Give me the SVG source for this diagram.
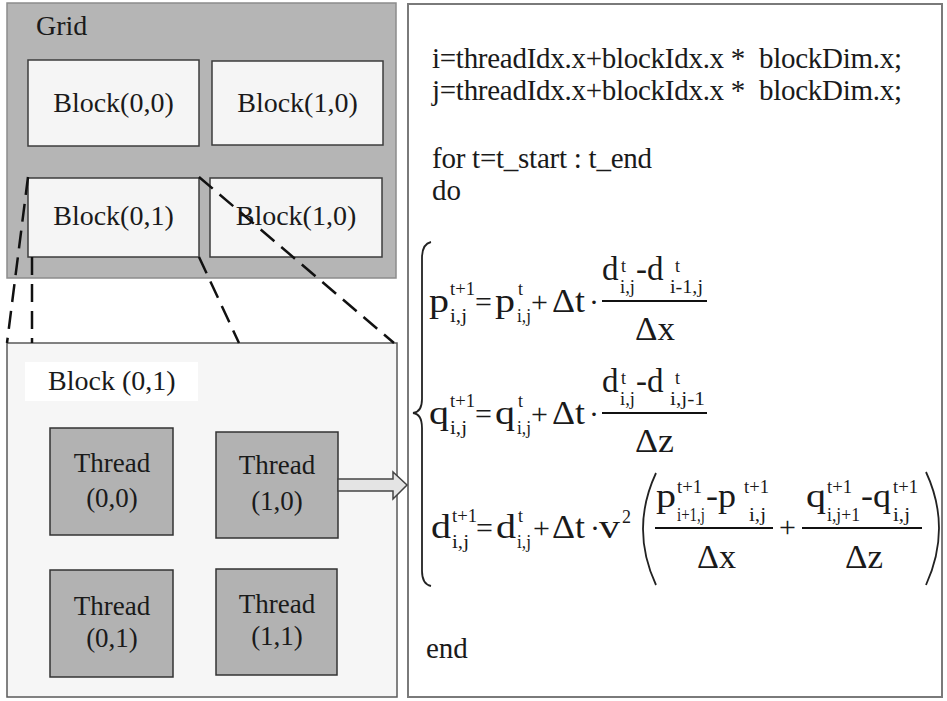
<svg xmlns="http://www.w3.org/2000/svg" width="947" height="701" viewBox="0 0 947 701" font-family="'Liberation Serif', Tinos, 'Times New Roman', 'DejaVu Serif', serif">
  <style>
    text { font-family: "Liberation Serif", Tinos, "Times New Roman", "DejaVu Serif", serif; fill: #1a1a1a; }
    .lbl { font-size: 28px; }
    .lblc { font-size: 28px; text-anchor: middle; }
    .thr { font-size: 27px; text-anchor: middle; }
    .code { font-size: 29px; white-space: pre; }
    .m { font-size: 30px; }
    .L { font-size: 33px; }
    .s { font-size: 18px; }
    .grid { fill: #b5b5b5; stroke: #8c8c8c; stroke-width: 1.5; }
    .blk { fill: #f5f5f5; stroke: #3c3c3c; stroke-width: 1.5; }
    .thbox { fill: #b2b2b2; stroke: #333; stroke-width: 1.5; }
    .dash { fill: none; stroke: #111; stroke-width: 2.5; stroke-dasharray: 18 9; }
    .bar { stroke: #111; stroke-width: 2; }
    .curve { fill: none; stroke: #222; stroke-width: 1.8; }
  </style>

  <rect x="0" y="0" width="947" height="701" fill="#ffffff"/>

  <!-- grid with its four blocks -->
  <g id="grid">
    <rect class="grid" x="7" y="3" width="389" height="275"/>
    <text class="lbl" x="36" y="35">Grid</text>
  </g>
  <g id="block-0-0">
    <rect class="blk" x="28" y="60" width="171" height="86"/>
    <text class="lblc" x="113.5" y="112">Block(0,0)</text>
  </g>
  <g id="block-1-0">
    <rect class="blk" x="212" y="61" width="171" height="84"/>
    <text class="lblc" x="297.5" y="112">Block(1,0)</text>
  </g>
  <g id="block-0-1">
    <rect class="blk" x="28" y="178" width="171" height="79"/>
    <text class="lblc" x="113.5" y="225">Block(0,1)</text>
  </g>
  <g id="block-1-0-b">
    <rect class="blk" x="210" y="178" width="172" height="79"/>
    <text class="lblc" x="296" y="225">Block(1,0)</text>
  </g>

  <!-- expanded block with its threads -->
  <g id="block-detail">
    <rect x="7" y="343" width="390" height="354" fill="#f6f6f6" stroke="#5a5a5a" stroke-width="1.5"/>
    <rect x="25" y="362" width="173" height="39" fill="#ffffff"/>
    <text class="lbl" x="48" y="390">Block (0,1)</text>
  </g>
  <g id="thread-0-0">
    <rect class="thbox" x="50" y="428" width="123" height="107"/>
    <text class="thr" x="112" y="472">Thread</text>
    <text class="thr" x="112" y="507">(0,0)</text>
  </g>
  <g id="thread-1-0">
    <rect class="thbox" x="216" y="432" width="122" height="106"/>
    <text class="thr" x="277" y="474">Thread</text>
    <text class="thr" x="277" y="510">(1,0)</text>
  </g>
  <g id="thread-0-1">
    <rect class="thbox" x="50" y="570" width="123" height="107"/>
    <text class="thr" x="112" y="615">Thread</text>
    <text class="thr" x="112" y="647">(0,1)</text>
  </g>
  <g id="thread-1-1">
    <rect class="thbox" x="216" y="569" width="121" height="106"/>
    <text class="thr" x="277" y="613">Thread</text>
    <text class="thr" x="277" y="645">(1,1)</text>
  </g>

  <!-- kernel code panel -->
  <g id="kernel">
    <rect x="408" y="4" width="534" height="693" fill="#ffffff" stroke="#7a7a7a" stroke-width="2"/>
    <text class="code" x="432" y="68" textLength="470" lengthAdjust="spacing">i=threadIdx.x+blockIdx.x *  blockDim.x;</text>
    <text class="code" x="432" y="100" textLength="470" lengthAdjust="spacing">j=threadIdx.x+blockIdx.x *  blockDim.x;</text>
    <text class="code" x="432" y="168" textLength="220" lengthAdjust="spacing">for t=t_start : t_end</text>
    <text class="code" x="432" y="200">do</text>

    <!-- brace -->
    <path class="curve" d="M431,242 Q422,244 422,258 L422,399 Q422,412 413,413 Q422,414 422,428 L422,571 Q422,584 431,586"/>

    <!-- p update -->
    <text class="L" x="429" y="312" textLength="20" lengthAdjust="spacingAndGlyphs">p</text>
    <text class="s" x="450" y="295" textLength="25" lengthAdjust="spacingAndGlyphs">t+1</text>
    <text class="s" x="450" y="322" textLength="17" lengthAdjust="spacingAndGlyphs">i,j</text>
    <text class="m" x="475" y="312">=</text>
    <text class="L" x="495" y="312" textLength="20" lengthAdjust="spacingAndGlyphs">p</text>
    <text class="s" x="518" y="295">t</text>
    <text class="s" x="517" y="322" textLength="14" lengthAdjust="spacingAndGlyphs">i,j</text>
    <text class="m" x="531" y="312">+</text>
    <text class="L" x="552" y="312" textLength="33" lengthAdjust="spacingAndGlyphs">Δt</text>
    <text class="m" x="589" y="312">·</text>
    <line class="bar" x1="602" y1="301" x2="707" y2="301"/>
    <text class="L" x="602" y="280">d</text>
    <text class="s" x="621" y="272">t</text>
    <text class="s" x="620" y="293" textLength="15" lengthAdjust="spacingAndGlyphs">i,j</text>
    <text class="L" x="636" y="280">-d</text>
    <text class="s" x="675" y="272">t</text>
    <text class="s" x="670" y="293" textLength="33" lengthAdjust="spacingAndGlyphs">i-1,j</text>
    <text class="L" x="635" y="340" textLength="40" lengthAdjust="spacingAndGlyphs">Δx</text>

    <!-- q update -->
    <text class="L" x="429" y="424" textLength="20" lengthAdjust="spacingAndGlyphs">q</text>
    <text class="s" x="450" y="407" textLength="25" lengthAdjust="spacingAndGlyphs">t+1</text>
    <text class="s" x="450" y="434" textLength="17" lengthAdjust="spacingAndGlyphs">i,j</text>
    <text class="m" x="475" y="424">=</text>
    <text class="L" x="495" y="424" textLength="20" lengthAdjust="spacingAndGlyphs">q</text>
    <text class="s" x="518" y="407">t</text>
    <text class="s" x="517" y="434" textLength="14" lengthAdjust="spacingAndGlyphs">i,j</text>
    <text class="m" x="531" y="424">+</text>
    <text class="L" x="552" y="424" textLength="33" lengthAdjust="spacingAndGlyphs">Δt</text>
    <text class="m" x="589" y="424">·</text>
    <line class="bar" x1="602" y1="413" x2="707" y2="413"/>
    <text class="L" x="602" y="392">d</text>
    <text class="s" x="621" y="384">t</text>
    <text class="s" x="620" y="405" textLength="15" lengthAdjust="spacingAndGlyphs">i,j</text>
    <text class="L" x="636" y="392">-d</text>
    <text class="s" x="675" y="384">t</text>
    <text class="s" x="670" y="405" textLength="35" lengthAdjust="spacingAndGlyphs">i,j-1</text>
    <text class="L" x="635" y="452" textLength="39" lengthAdjust="spacingAndGlyphs">Δz</text>

    <!-- d update -->
    <text class="L" x="431" y="538" textLength="20" lengthAdjust="spacingAndGlyphs">d</text>
    <text class="s" x="452" y="522" textLength="25" lengthAdjust="spacingAndGlyphs">t+1</text>
    <text class="s" x="452" y="548" textLength="17" lengthAdjust="spacingAndGlyphs">i,j</text>
    <text class="m" x="476" y="538">=</text>
    <text class="L" x="496" y="538" textLength="20" lengthAdjust="spacingAndGlyphs">d</text>
    <text class="s" x="518" y="522">t</text>
    <text class="s" x="517" y="548" textLength="14" lengthAdjust="spacingAndGlyphs">i,j</text>
    <text class="m" x="533" y="538">+</text>
    <text class="L" x="552" y="538" textLength="33" lengthAdjust="spacingAndGlyphs">Δt</text>
    <text class="m" x="590" y="538">·</text>
    <text class="L" x="599" y="538" textLength="21" lengthAdjust="spacingAndGlyphs">v</text>
    <text class="s" x="622" y="523">2</text>
    <path class="curve" d="M656,473 Q630,529 656,585"/>
    <line class="bar" x1="655" y1="528" x2="773" y2="528"/>
    <text class="L" x="656" y="507" textLength="20" lengthAdjust="spacingAndGlyphs">p</text>
    <text class="s" x="677" y="493" textLength="25" lengthAdjust="spacingAndGlyphs">t+1</text>
    <text class="s" x="677" y="521" textLength="28" lengthAdjust="spacingAndGlyphs">i+1,j</text>
    <text class="L" x="706" y="507" textLength="30" lengthAdjust="spacingAndGlyphs">-p</text>
    <text class="s" x="744" y="493" textLength="25" lengthAdjust="spacingAndGlyphs">t+1</text>
    <text class="s" x="749" y="521" textLength="17" lengthAdjust="spacingAndGlyphs">i,j</text>
    <text class="L" x="697" y="568" textLength="39" lengthAdjust="spacingAndGlyphs">Δx</text>
    <text class="m" x="779" y="537">+</text>
    <line class="bar" x1="802" y1="528" x2="922" y2="528"/>
    <text class="L" x="806" y="507" textLength="20" lengthAdjust="spacingAndGlyphs">q</text>
    <text class="s" x="827" y="493" textLength="25" lengthAdjust="spacingAndGlyphs">t+1</text>
    <text class="s" x="827" y="521" textLength="33" lengthAdjust="spacingAndGlyphs">i,j+1</text>
    <text class="L" x="861" y="507" textLength="30" lengthAdjust="spacingAndGlyphs">-q</text>
    <text class="s" x="893" y="493" textLength="25" lengthAdjust="spacingAndGlyphs">t+1</text>
    <text class="s" x="893" y="521" textLength="17" lengthAdjust="spacingAndGlyphs">i,j</text>
    <text class="L" x="845" y="568" textLength="38" lengthAdjust="spacingAndGlyphs">Δz</text>
    <path class="curve" d="M926,472 Q952,528 926,585"/>

    <text class="code" x="426" y="658">end</text>
  </g>

  <!-- connectors -->
  <g id="connectors">
    <line class="dash" x1="28" y1="177" x2="7" y2="343"/>
    <line class="dash" x1="32" y1="257" x2="32" y2="343"/>
    <line class="dash" x1="199" y1="257" x2="239" y2="343"/>
    <line class="dash" x1="199" y1="177" x2="394" y2="343"/>
    <polygon points="338,479 393,479 393,472 407,485 393,499 393,491 338,491" fill="#e4e4e4" stroke="#444" stroke-width="1.5"/>
  </g>
</svg>
